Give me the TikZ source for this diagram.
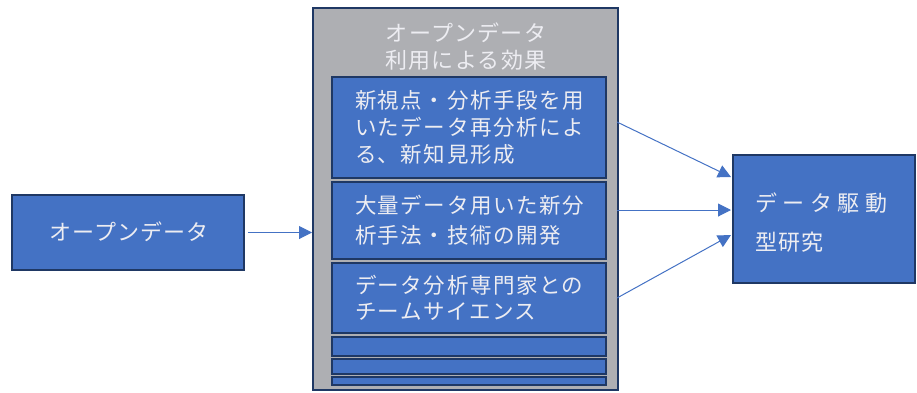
\documentclass[tikz,border=0pt]{standalone}
\usepackage{fontspec}
\newfontfamily\jp{Noto Sans CJK JP}
\usetikzlibrary{arrows.meta}
\definecolor{boxblue}{HTML}{4472C4}
\definecolor{navy}{HTML}{1F3864}
\definecolor{panelgray}{HTML}{AEAFB3}
\definecolor{txt}{HTML}{EDEDF2}
\begin{document}
\begin{tikzpicture}[x=1pt,y=-1pt,
  bluebox/.style={draw=navy, line width=2pt, fill=boxblue, inner sep=0pt},
  graybox/.style={draw=navy, line width=2pt, fill=panelgray, inner sep=0pt},
  conn/.style={draw=boxblue, line width=1pt, -{Triangle[length=13pt,width=13pt]}},
  lbl/.style={text=txt, inner sep=0pt},
  innertext/.style={bluebox, text=txt, align=left, text width=228pt, inner xsep=23pt}]
\useasboundingbox (0,0) rectangle (917,392);
% left box
\node[bluebox, minimum width=232pt, minimum height=75pt] (open) at (128,232.5) {};
\node[lbl, font=\jp\fontsize{22}{27}\selectfont\addfontfeature{LetterSpace=5}] (opentxt) at (129,232) {オープンデータ};
% container
\node[graybox, minimum width=305pt, minimum height=382pt] (cont) at (465.5,199) {};
\node[lbl, align=center, font=\jp\fontsize{22}{27}\selectfont\addfontfeature{LetterSpace=6}] (title) at (466,46.5) {オープンデータ\\利用による効果};
% inner boxes
\node[innertext, minimum height=101pt, font=\jp\fontsize{21.5}{27}\selectfont\addfontfeature{LetterSpace=7}] (b1) at (469,127.5) {新視点・分析手段を用\\いたデータ再分析によ\\る、新知見形成};
\node[innertext, minimum height=77pt, font=\jp\fontsize{21.5}{30}\selectfont\addfontfeature{LetterSpace=7}] (b2) at (469,220.5) {大量データ用いた新分\\析手法・技術の開発};
\node[innertext, minimum height=70pt, font=\jp\fontsize{21.5}{26}\selectfont\addfontfeature{LetterSpace=7}] (b3) at (469,298) {データ分析専門家との\\チームサイエンス};
\node[bluebox, minimum width=274pt, minimum height=19pt] (s1) at (469,346.5) {};
\node[bluebox, minimum width=274pt, minimum height=15pt] (s2) at (469,366.5) {};
\node[bluebox, minimum width=274pt, minimum height=8pt] (s3) at (469,381) {};
% right box
\node[bluebox, minimum width=182pt, minimum height=128pt] (res) at (824,219) {};
\node[lbl, anchor=west, align=left, font=\jp\fontsize{22}{39}\selectfont] (restxt) at (755,222.5)
  {{\addfontfeature{LetterSpace=25}データ駆動}\\{\addfontfeature{LetterSpace=6}型研究}};
% connectors
\coordinate (a1) at (617,122); \coordinate (e1) at (731,177);
\coordinate (a2) at (617,210); \coordinate (e2) at (731,210);
\coordinate (a3) at (617,298); \coordinate (e3) at (731,235);
\draw[conn, shorten <=3pt] (open.east) -- (open.east -| cont.west);
\draw[conn] (a1) -- (e1);
\draw[conn] (a2) -- (e2);
\draw[conn] (a3) -- (e3);
\end{tikzpicture}
\end{document}
